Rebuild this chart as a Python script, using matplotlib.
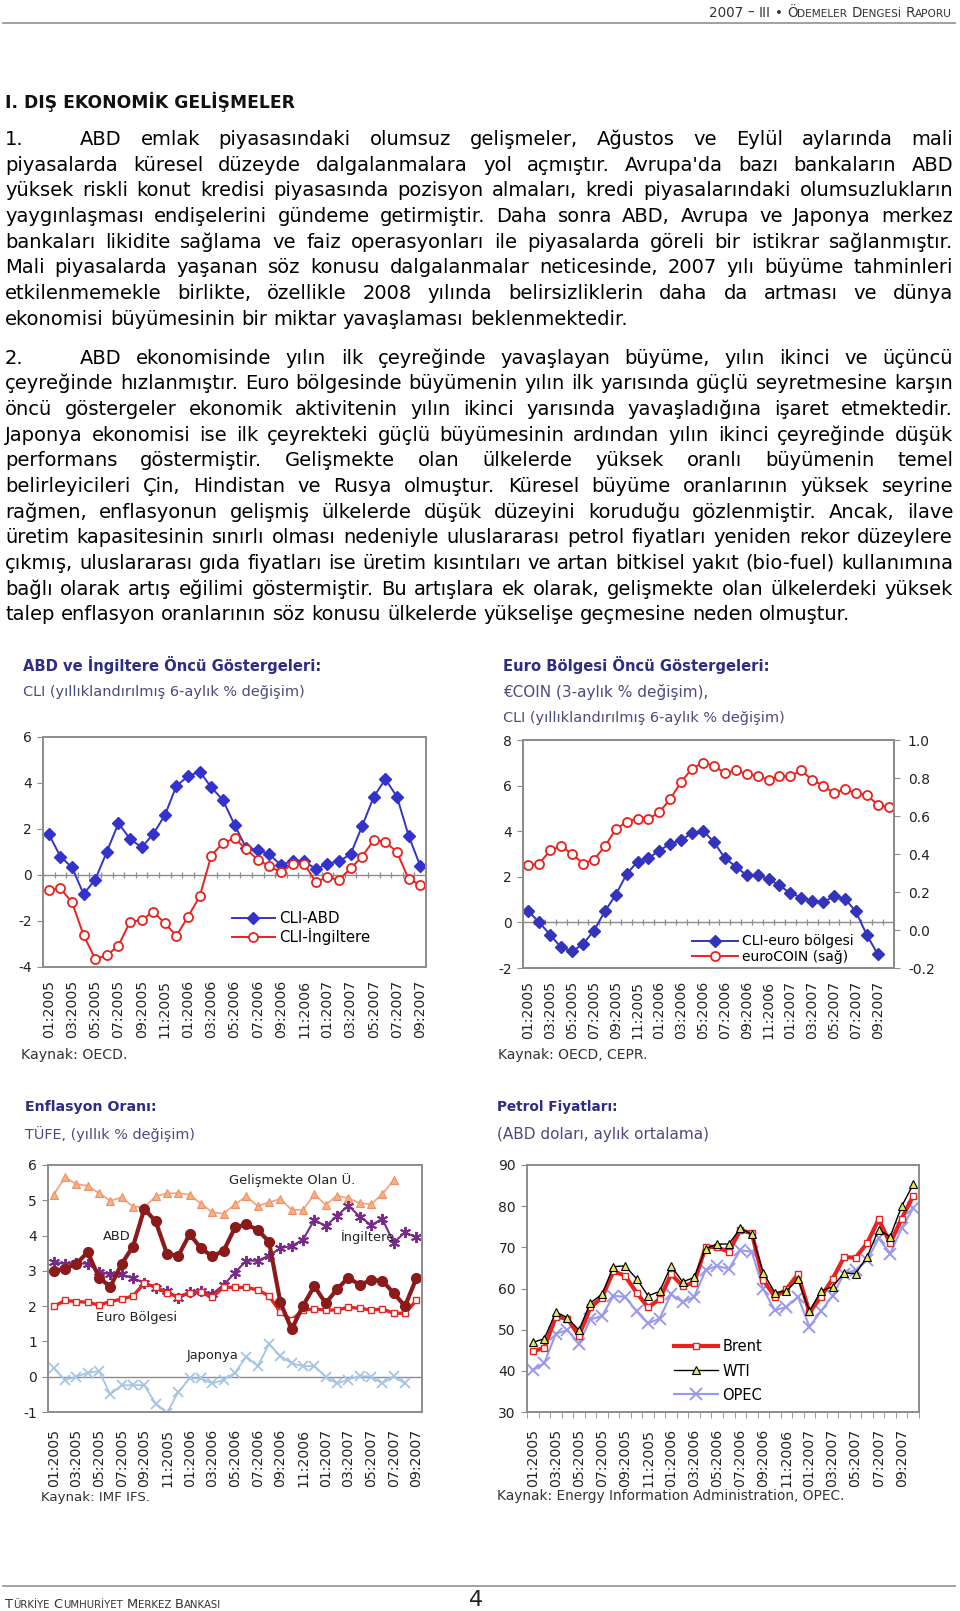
import matplotlib
matplotlib.use('Agg')
import matplotlib.pyplot as plt
from matplotlib.lines import Line2D
from matplotlib.ticker import FormatStrFormatter
import numpy as np

plt.rcParams['font.family'] = 'DejaVu Sans'
plt.rcParams['axes.unicode_minus'] = False

# ---------------- data ----------------
tick_labels = ['01:2005', '03:2005', '05:2005', '07:2005', '09:2005', '11:2005',
               '01:2006', '03:2006', '05:2006', '07:2006', '09:2006', '11:2006',
               '01:2007', '03:2007', '05:2007', '07:2007', '09:2007']

# CLI, annualised 6-month % change, 01:2005 - 09:2007
cli_abd = [1.78, 0.80, 0.33, -0.83, -0.20, 1.01, 2.25, 1.57, 1.20, 1.78, 2.60,
           3.88, 4.29, 4.50, 3.81, 3.26, 2.19, 1.17, 1.09, 0.90, 0.43, 0.62,
           0.62, 0.25, 0.48, 0.60, 0.90, 2.13, 3.40, 4.17, 3.40, 1.71, 0.40]
cli_ing = [-0.65, -0.58, -1.19, -2.62, -3.65, -3.49, -3.07, -2.03, -1.96, -1.59, -2.10,
           -2.64, -1.81, -0.93, 0.84, 1.39, 1.59, 1.13, 0.67, 0.38, 0.12, 0.48,
           0.48, -0.29, -0.10, -0.22, 0.29, 0.80, 1.52, 1.45, 0.99, -0.17, -0.43]

# euro area: CLI (left axis, to 09:2007), euroCOIN (right axis, to 10:2007)
cli_euro = [0.48, 0.00, -0.55, -1.10, -1.27, -0.95, -0.36, 0.48, 1.21, 2.12, 2.67,
            2.82, 3.15, 3.45, 3.62, 3.91, 4.03, 3.52, 2.82, 2.45, 2.06, 2.06,
            1.91, 1.62, 1.28, 1.09, 0.96, 0.89, 1.14, 1.04, 0.48, -0.54, -1.39]
eurocoin = [0.34, 0.35, 0.42, 0.44, 0.40, 0.35, 0.37, 0.44, 0.53, 0.57, 0.585, 0.585,
            0.62, 0.69, 0.78, 0.85, 0.88, 0.865, 0.825, 0.84, 0.82, 0.81, 0.79,
            0.81, 0.81, 0.84, 0.79, 0.76, 0.72, 0.74, 0.72, 0.71, 0.66, 0.645]

# CPI, annual % change
inf_gel = [5.16, 5.65, 5.46, 5.41, 5.20, 4.99, 5.08, 4.82, 4.80, 5.11, 5.20, 5.20,
           5.16, 4.90, 4.66, 4.62, 4.89, 5.11, 4.84, 4.94, 5.04, 4.73, 4.73, 5.17,
           4.87, 5.13, 5.06, 4.92, 4.89, 5.17, 5.58]
inf_abd = [3.00, 3.06, 3.20, 3.53, 2.81, 2.55, 3.20, 3.69, 4.76, 4.40, 3.48,
           3.43, 4.04, 3.64, 3.41, 3.57, 4.23, 4.32, 4.16, 3.83, 2.11, 1.34,
           2.01, 2.57, 2.08, 2.48, 2.81, 2.60, 2.74, 2.72, 2.37, 2.00, 2.79]
inf_ing = [3.24, 3.20, 3.22, 3.20, 2.98, 2.90, 2.90, 2.79, 2.67, 2.51, 2.43,
           2.22, 2.39, 2.43, 2.35, 2.60, 2.95, 3.29, 3.29, 3.43, 3.64, 3.71,
           3.88, 4.45, 4.26, 4.56, 4.85, 4.54, 4.30, 4.47, 3.80, 4.09, 3.95]
inf_euro = [1.99, 2.16, 2.13, 2.11, 2.03, 2.13, 2.20, 2.29, 2.65, 2.54, 2.37,
            2.27, 2.38, 2.39, 2.25, 2.54, 2.53, 2.53, 2.46, 2.29, 1.83, 1.61,
            1.89, 1.92, 1.89, 1.89, 1.97, 1.94, 1.89, 1.92, 1.80, 1.80, 2.16]
inf_jap = [0.24, -0.09, 0.00, 0.11, 0.16, -0.50, -0.24, -0.24, -0.24, -0.76, -1.02,
           -0.43, -0.05, -0.05, -0.19, -0.09, 0.11, 0.57, 0.30, 0.92, 0.59, 0.38,
           0.30, 0.30, 0.00, -0.19, -0.08, 0.02, 0.00, -0.19, 0.02, -0.19]

# oil prices, USD monthly average, 01:2005 - 10:2007
brent = [44.7, 45.6, 53.1, 52.7, 48.5, 55.4, 57.8, 64.2, 63.1, 59.0, 55.4, 57.4,
         63.5, 60.6, 61.4, 70.2, 70.0, 68.9, 74.2, 73.4, 62.0, 58.0, 59.8, 63.5,
         54.2, 58.0, 62.3, 67.6, 67.5, 71.0, 76.8, 71.0, 77.0, 82.5]
wti = [46.9, 47.8, 54.3, 52.9, 49.9, 56.5, 58.6, 65.3, 65.5, 62.4, 58.2, 59.3,
       65.5, 61.6, 62.7, 69.7, 70.8, 70.8, 74.6, 73.2, 63.8, 59.0, 59.4, 62.2,
       54.5, 59.4, 60.4, 63.8, 63.6, 67.7, 74.3, 72.6, 80.0, 85.3]
opec = [40.1, 41.9, 49.0, 49.9, 46.6, 52.5, 53.3, 58.2, 58.0, 54.5, 51.5, 52.7,
        58.6, 56.7, 58.0, 64.5, 65.5, 64.7, 69.3, 68.9, 59.8, 54.7, 55.5, 58.0,
        50.7, 54.5, 58.2, 63.6, 64.5, 66.9, 72.2, 68.5, 74.6, 79.5]

para1 = [
    "ABD emlak piyasasındaki olumsuz gelişmeler, Ağustos ve Eylül aylarında mali",
    "piyasalarda küresel düzeyde dalgalanmalara yol açmıştır. Avrupa'da bazı bankaların ABD",
    "yüksek riskli konut kredisi piyasasında pozisyon almaları, kredi piyasalarındaki olumsuzlukların",
    "yaygınlaşması endişelerini gündeme getirmiştir. Daha sonra ABD, Avrupa ve Japonya merkez",
    "bankaları likidite sağlama ve faiz operasyonları ile piyasalarda göreli bir istikrar sağlanmıştır.",
    "Mali piyasalarda yaşanan söz konusu dalgalanmalar neticesinde, 2007 yılı büyüme tahminleri",
    "etkilenmemekle birlikte, özellikle 2008 yılında belirsizliklerin daha da artması ve dünya",
    "ekonomisi büyümesinin bir miktar yavaşlaması beklenmektedir.",
]
para2 = [
    "ABD ekonomisinde yılın ilk çeyreğinde yavaşlayan büyüme, yılın ikinci ve üçüncü",
    "çeyreğinde hızlanmıştır. Euro bölgesinde büyümenin yılın ilk yarısında güçlü seyretmesine karşın",
    "öncü göstergeler ekonomik aktivitenin yılın ikinci yarısında yavaşladığına işaret etmektedir.",
    "Japonya ekonomisi ise ilk çeyrekteki güçlü büyümesinin ardından yılın ikinci çeyreğinde düşük",
    "performans göstermiştir. Gelişmekte olan ülkelerde yüksek oranlı büyümenin temel",
    "belirleyicileri Çin, Hindistan ve Rusya olmuştur. Küresel büyüme oranlarının yüksek seyrine",
    "rağmen, enflasyonun gelişmiş ülkelerde düşük düzeyini koruduğu gözlenmiştir. Ancak, ilave",
    "üretim kapasitesinin sınırlı olması nedeniyle uluslararası petrol fiyatları yeniden rekor düzeylere",
    "çıkmış, uluslararası gıda fiyatları ise üretim kısıntıları ve artan bitkisel yakıt (bio-fuel) kullanımına",
    "bağlı olarak artış eğilimi göstermiştir. Bu artışlara ek olarak, gelişmekte olan ülkelerdeki yüksek",
    "talep enflasyon oranlarının söz konusu ülkelerde yükselişe geçmesine neden olmuştur.",
]

# ---------------- page ----------------
W, H = 960, 1611
fig = plt.figure(figsize=(W / 100, H / 100), dpi=100)
renderer = fig.canvas.get_renderer()

NAVY = '#2d2d84'
SUB = '#4b4b7d'
GRID = '#8c8c8c'


def fx(x):
    return x / W


def fy(y):
    return 1 - y / H


def rect(l, t, r, b):
    return [fx(l), fy(b), (r - l) / W, (b - t) / H]


def put(x, y, s, **kw):
    return fig.text(fx(x), fy(y), s, **kw)


def wid(t):
    return t.get_window_extent(renderer).width


def space_w(fs, weight='normal'):
    a = put(0, 0, 'n n', fontsize=fs, fontweight=weight)
    b = put(0, 0, 'nn', fontsize=fs, fontweight=weight)
    w = wid(a) - wid(b)
    a.remove()
    b.remove()
    return w


def fitted(x, y, s, width, cap=99, **kw):
    # text whose size is chosen so that it spans `width` pixels
    t = put(x, y, s, fontsize=10, **kw)
    t.set_fontsize(min(cap, 10 * width / wid(t)))
    return t


def runs(x, y, parts, color, width, ha='left'):
    # parts: (text, relative size, space before) -> fake small caps
    def lay(scale):
        objs = [put(0, y, s, fontsize=f * scale, va='baseline', color=color)
                for s, f, g in parts]
        ws = [wid(o) for o in objs]
        gaps = [space_w(f * scale) if g else 0 for s, f, g in parts]
        return objs, ws, gaps
    objs, ws, gaps = lay(1)
    scale = width / (sum(ws) + sum(gaps))
    for o in objs:
        o.remove()
    objs, ws, gaps = lay(scale)
    xx = x - width if ha == 'right' else x
    for o, w, g in zip(objs, ws, gaps):
        xx += g
        o.set_x(fx(xx))
        xx += w


def natural(line, fs):
    sp = space_w(fs)
    objs = [put(0, 0, w, fontsize=fs) for w in line.split()]
    tot = sum(wid(o) for o in objs) + sp * (len(objs) - 1)
    for o in objs:
        o.remove()
    return tot


def paragraph(lines, label, y0, step, fs, x0=5, x1=953, indent=80):
    sp = space_w(fs)
    for i, line in enumerate(lines):
        yb = y0 + i * step + 5
        left = x0
        if i == 0:
            put(x0, yb, label, fontsize=fs, va='baseline')
            left = indent
        words = line.split()
        objs = [put(left, yb, w, fontsize=fs, va='baseline') for w in words]
        ws = [wid(o) for o in objs]
        if i == len(lines) - 1:
            gap = sp
        else:
            gap = (x1 - left - sum(ws)) / (len(words) - 1)
        xx = left
        for o, w in zip(objs, ws):
            o.set_x(fx(xx))
            xx += w + gap


# header / footer
runs(953, 17, [('2007', 10, 0), ('–', 10, 1), ('III', 10, 1), ('•', 10, 1),
               ('Ö', 10, 1), ('DEMELER', 7.8, 0), ('D', 10, 1), ('ENGESİ', 7.8, 0),
               ('R', 10, 1), ('APORU', 7.8, 0)], '#333333', 244, ha='right')
fig.add_artist(Line2D([0.003, 0.995], [fy(22.5)] * 2, color='#9a9a9a', lw=1.3,
                      transform=fig.transFigure))
fig.add_artist(Line2D([0.003, 0.995], [fy(1586)] * 2, color='#9a9a9a', lw=1.3,
                      transform=fig.transFigure))
runs(5, 1608, [('T', 10, 0), ('ÜRKİYE', 7.8, 0), ('C', 10, 1), ('UMHURİYET', 7.8, 0),
               ('M', 10, 1), ('ERKEZ', 7.8, 0), ('B', 10, 1), ('ANKASI', 7.8, 0)],
     '#333333', 219)
put(476, 1600, '4', fontsize=16, ha='center', va='center', color='#222222')

fitted(5, 102, 'I. DIŞ EKONOMİK GELİŞMELER', 288, fontweight='bold',
       va='center', color='#111111')

# paragraph size: tightest justified line gets normal word spacing
fit = 99
for lines in (para1, para2):
    for i, line in enumerate(lines[:-1]):
        avail = 953 - (80 if i == 0 else 5)
        fit = min(fit, 10 * avail / natural(line, 10))
pfs = min(fit, 14)
paragraph(para1, '1.', 140, 25.65, pfs)
paragraph(para2, '2.', 358.7, 25.65, pfs)


# ---------------- charts ----------------
def base_axes(box, n, ylim, yticks, xpad=9):
    ax = fig.add_axes(rect(*box))
    ax.set_xlim(-0.5, n - 0.5)
    ax.set_ylim(*ylim)
    ax.set_yticks(yticks)
    ax.set_xticks(np.arange(len(tick_labels)) * 2)
    ax.set_xticklabels(tick_labels, rotation=90, fontsize=10.2, color='#222222')
    ax.tick_params(axis='x', length=0, pad=xpad)
    ax.tick_params(axis='y', direction='out', length=4, color=GRID, labelsize=10,
                   labelcolor='#222222', pad=4)
    for s in ax.spines.values():
        s.set_color(GRID)
        s.set_linewidth(1.4)
    return ax


def zero_axis(ax, n, ticks=True):
    ax.axhline(0, color=GRID, lw=1, zorder=1)
    if ticks:
        edges = np.arange(n + 1) - 0.5
        ax.plot(edges, np.zeros(n + 1), ls='none', marker='|', ms=5, mew=0.9,
                color=GRID, zorder=1)


def heading(x, y, title, tw, subs, kx, ky, kaynak, kw):
    fitted(x, y, title, tw, cap=12, fontweight='bold', color=NAVY, va='center')
    for i, (s, sw) in enumerate(subs):
        fitted(x, y + 27 + 26 * i, s, sw, cap=11, color=SUB, va='center')
    fitted(kx, ky, kaynak, kw, cap=10.5, color='#333333', va='center')


# 1. ABD ve İngiltere
heading(23, 665, 'ABD ve İngiltere Öncü Göstergeleri:', 297,
        [('CLI (yıllıklandırılmış 6-aylık % değişim)', 279)],
        21, 1055, 'Kaynak: OECD.', 106)
n1 = len(cli_abd)
ax1 = base_axes((43, 737, 426, 967), n1, (-4, 6), np.arange(-4, 7, 2))
zero_axis(ax1, n1)
x = np.arange(n1)
ax1.plot(x, cli_abd, color='#3333cc', lw=1.4, marker='D', ms=6, label='CLI-ABD')
ax1.plot(x, cli_ing, color='#e8231f', lw=1.4, marker='o', ms=6.5, mfc='white',
         mec='#e8231f', mew=1.3, label='CLI-İngiltere')
ax1.legend(loc='upper left', bbox_to_anchor=(0.465, 0.29), frameon=False, fontsize=10.8,
           handlelength=2.9, handletextpad=0.3, labelspacing=0.15, borderpad=0.2)

# 2. Euro bölgesi
heading(503, 665, 'Euro Bölgesi Öncü Göstergeleri:', 267,
        [('€COIN (3-aylık % değişim),', 204),
         ('CLI (yıllıklandırılmış 6-aylık % değişim)', 279)],
        498, 1055, 'Kaynak: OECD, CEPR.', 149)
n2 = len(eurocoin)
ax2 = base_axes((523, 740, 894, 968), n2, (-2, 8), np.arange(-2, 9, 2))
zero_axis(ax2, n2)
ax2r = ax2.twinx()
ax2r.set_ylim(-0.2, 1.0)
ax2r.set_yticks(np.arange(-0.2, 1.01, 0.2))
ax2r.yaxis.set_major_formatter(FormatStrFormatter('%.1f'))
ax2r.tick_params(axis='y', direction='out', length=4, color=GRID, labelsize=10,
                 labelcolor='#222222', pad=6)
for s in ax2r.spines.values():
    s.set_color(GRID)
    s.set_linewidth(1.4)
h1, = ax2.plot(np.arange(len(cli_euro)), cli_euro, color='#3333bb', lw=1.4, marker='D',
               ms=6, label='CLI-euro bölgesi')
h2, = ax2r.plot(np.arange(n2), eurocoin, color='#e8231f', lw=1.4, marker='o', ms=6.5,
                mfc='white', mec='#e8231f', mew=1.3, label='euroCOIN (sağ)')
ax2r.legend(handles=[h1, h2], loc='upper left', bbox_to_anchor=(0.43, 0.19), frameon=False,
            fontsize=10, handlelength=3.3, handletextpad=0.3, labelspacing=0.1, borderpad=0.2)

# 3. Enflasyon
heading(25, 1107, 'Enflasyon Oranı:', 132, [('TÜFE, (yıllık % değişim)', 170)],
        41, 1497, 'Kaynak: IMF IFS.', 109)
n3 = len(inf_abd)
ax3 = base_axes((48, 1165, 422, 1412), n3, (-1, 6), np.arange(-1, 7, 1), xpad=12)
zero_axis(ax3, n3, ticks=False)
ax3.plot(np.arange(len(inf_jap)), inf_jap, color='#a6c4e4', lw=1.3, marker='x', ms=6.5, mew=1.3)
ax3.plot(np.arange(len(inf_gel)), inf_gel, color='#f4a58a', lw=1.3, marker='^', ms=6,
         mfc='#f9b27a', mec='#ef8f6a', mew=0.8)
ax3.plot(np.arange(n3), inf_ing, color='#7a2a8a', lw=1.5, marker=(6, 2, 0), ms=8, mew=1.4)
ax3.plot(np.arange(n3), inf_euro, color='#e8251f', lw=2.4, marker='s', ms=4.5,
         mfc='white', mec='#e8251f', mew=1)
ax3.plot(np.arange(n3), inf_abd, color='#8b1a1a', lw=3, marker='o', ms=7)
for lab, lx, ly in [('Gelişmekte Olan Ü.', 15.5, 5.58), ('ABD', 4.3, 3.97),
                    ('İngiltere', 25.3, 3.97), ('Euro Bölgesi', 3.7, 1.67),
                    ('Japonya', 11.7, 0.6)]:
    ax3.text(lx, ly, lab, fontsize=9.4, va='center', ha='left', color='#222222')

# 4. Petrol
heading(497, 1107, 'Petrol Fiyatları:', 121, [('(ABD doları, aylık ortalama)', 221)],
        497, 1496, 'Kaynak: Energy Information Administration, OPEC.', 346)
n4 = len(brent)
ax4 = base_axes((527, 1165, 919, 1412), n4, (30, 90), np.arange(30, 91, 10), xpad=12)
ax4.set_xticks(np.arange(n4 + 1) - 0.5, minor=True)
ax4.tick_params(axis='x', which='minor', length=4, direction='out', color=GRID)
x = np.arange(n4)
h_o, = ax4.plot(x, opec, color='#9999ee', lw=1.5, marker='x', ms=8, mew=1.4, label='OPEC')
h_b, = ax4.plot(x, brent, color='#e8231f', lw=3, marker='s', ms=5, mfc='white',
                mec='#e8231f', mew=1, label='Brent')
h_w, = ax4.plot(x, wti, color='black', lw=1, marker='^', ms=6, mfc='#e6e65a',
                mec='black', mew=0.8, label='WTI')
ax4.legend(handles=[h_b, h_w, h_o], loc='upper left', bbox_to_anchor=(0.35, 0.335),
           frameon=False, fontsize=10.5, handlelength=3.0, handletextpad=0.3,
           labelspacing=0.62, borderpad=0.2)

fig.savefig('out.png', dpi=100, facecolor='white')
